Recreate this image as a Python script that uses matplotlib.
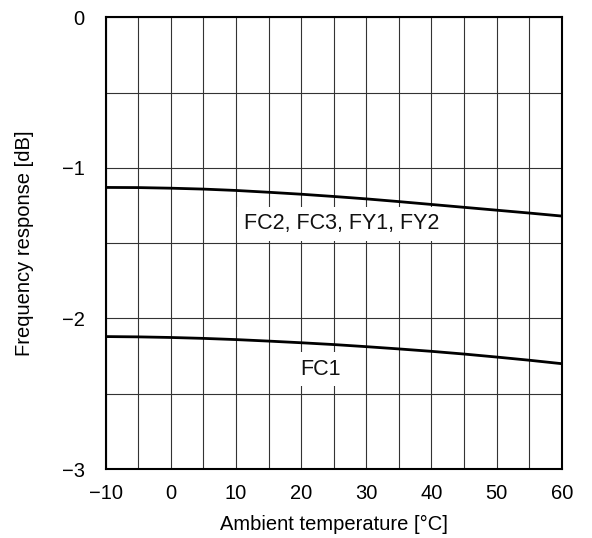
import numpy as np
import matplotlib.pyplot as plt
from matplotlib.ticker import MultipleLocator

plt.rcParams['font.family'] = ['Liberation Sans', 'DejaVu Sans']

# ambient temperature [°C]
temp = [-10, -5, 0, 5, 10, 15, 20, 25, 30, 35, 40, 45, 50, 55, 60]
# frequency response [dB]
resp_fc2 = [-1.130, -1.131, -1.135, -1.141, -1.150, -1.162, -1.175, -1.190,
            -1.206, -1.224, -1.243, -1.262, -1.281, -1.300, -1.320]
resp_fc1 = [-2.120, -2.122, -2.126, -2.132, -2.140, -2.150, -2.161, -2.173,
            -2.187, -2.202, -2.218, -2.236, -2.256, -2.277, -2.300]

labels = [('FC2, FC3, FY1, FY2', 26.2, -1.37), ('FC1', 22.9, -2.336)]

yticks = [-3, -2, -1, 0]
ytick_labels = ['\u22123', '\u22122', '\u22121', '0']

fig = plt.figure(figsize=(5.92, 5.38), dpi=100)
ax = fig.add_axes([0.1785, 0.128, 0.7705, 0.84])

ax.plot(temp, resp_fc2, color='black', linewidth=2.0, zorder=3)
ax.plot(temp, resp_fc1, color='black', linewidth=2.0, zorder=3)

for txt, x, y in labels:
    ax.text(x, y, txt, ha='center', va='center', fontsize=15.5, color='#111111', zorder=2,
            bbox=dict(boxstyle='square,pad=0.3', facecolor='white', edgecolor='none'))

ax.set_xlim(-10, 60)
ax.set_ylim(-3, 0)
ax.xaxis.set_major_locator(MultipleLocator(10))
ax.xaxis.set_minor_locator(MultipleLocator(5))
ax.set_yticks(yticks)
ax.set_yticklabels(ytick_labels)
ax.yaxis.set_minor_locator(MultipleLocator(0.5))
ax.grid(True, which='both', color='#333333', linewidth=0.8, zorder=1)
ax.set_axisbelow(True)

ax.tick_params(which='both', length=0)
ax.tick_params(axis='x', labelsize=14.5, pad=11)
ax.tick_params(axis='y', labelsize=14.5, pad=15)

for s in ax.spines.values():
    s.set_linewidth(1.5)
    s.set_color('black')

ax.set_xlabel('Ambient temperature [°C]', fontsize=14.5, labelpad=8)
ax.set_ylabel('Frequency response [dB]', fontsize=14.5, labelpad=20)

fig.savefig('out.png', dpi=100)
